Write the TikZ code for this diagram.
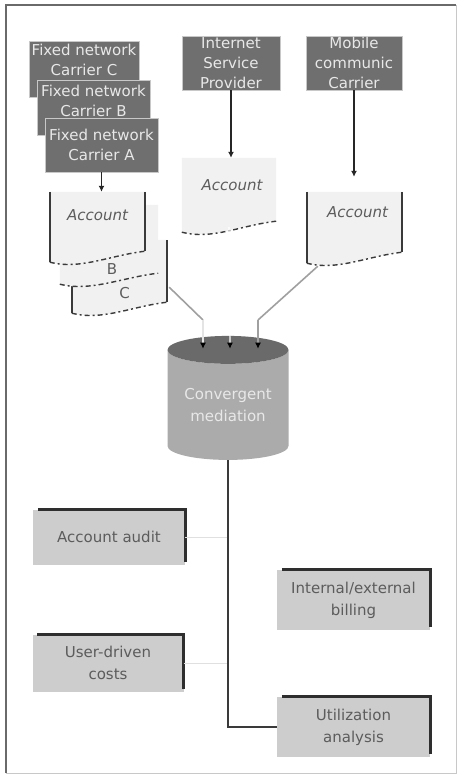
\documentclass[tikz,border=0pt]{standalone}
\usepackage{fontspec}
\setsansfont{DejaVu Sans}
\usetikzlibrary{arrows.meta,shapes.geometric,calc}
\definecolor{carrierFill}{HTML}{6F6F6F}
\definecolor{docFill}{HTML}{F1F1F1}
\definecolor{boxFill}{HTML}{CDCDCD}
\definecolor{bodyFill}{HTML}{ABABAB}
\definecolor{endFill}{HTML}{6A6A6A}
\definecolor{inkDark}{HTML}{3A3A3A}
\definecolor{inkText}{HTML}{5C5C5C}
\definecolor{paleText}{HTML}{E8E8E8}
\definecolor{feedGray}{HTML}{A0A0A0}
\definecolor{feedPale}{HTML}{E4E4E4}
\definecolor{frameDark}{HTML}{6A6A6A}
\definecolor{frameLight}{HTML}{C8C8C8}
\tikzset{%
  >={Latex[width=6pt,length=6pt]},
  % Specifications for style of nodes:
        base/.style = {rectangle, inner sep=0pt, text centered, align=center,
                       font=\sffamily\fontsize{15}{20}\selectfont},
     carrier/.style = {base, fill=carrierFill, draw=frameLight, line width=0.5pt},
     cartext/.style = {base, text=paleText},
         doc/.style = {rectangle, inner sep=0pt},
        acct/.style = {base, text=inkText, font=\sffamily\itshape\fontsize{15}{20}\selectfont},
     docfill/.style = {fill=docFill},
     docside/.style = {draw=inkDark, line width=2.2pt},
        wave/.style = {draw=inkDark, line width=1.4pt, dash pattern=on 5pt off 3pt on 2pt off 3pt},
      result/.style = {base, fill=boxFill, text=inkText, font=\sffamily\fontsize{15}{22}\selectfont},
         rim/.style = {draw=inkDark!80!black, line width=3pt},
         cyl/.style = {cylinder, shape border rotate=90, aspect=0.32, inner sep=0pt,
                       minimum width=121pt, minimum height=124pt, align=center,
                       cylinder uses custom fill, cylinder body fill=bodyFill,
                       cylinder end fill=endFill, text=paleText,
                       font=\sffamily\fontsize{15}{22}\selectfont},
  % Specifications for style of lines:
        flow/.style = {draw=black!85, line width=1.3pt},
        feed/.style = {draw=feedGray, line width=1.6pt},
    feedpale/.style = {draw=feedPale, line width=1.6pt},
       trunk/.style = {draw=inkDark, line width=2pt},
         tap/.style = {draw=black!12, line width=0.8pt},
}
\begin{document}
\begin{tikzpicture}[x=1pt, y=-1pt]
  \useasboundingbox (0,0) rectangle (458,776);
  % frame
  \draw[frameLight, line width=1pt] (456,5) -- (456,773) -- (6,773);
  \draw[frameDark, line width=2.5pt] (6,773) -- (6,5) -- (456,5);

  % Providers (fixed carriers stacked, C at the back)
  \node (carC) [carrier, minimum width=110, minimum height=56] at (84,69) {};
  \node (txtC) [cartext] at ($(carC.north)+(0,19)$) {Fixed network\\Carrier C};
  \node (carB) [carrier, minimum width=113, minimum height=55] at (93.5,107.5) {};
  \node (txtB) [cartext] at ($(carB.north)+(0,21)$) {Fixed network\\Carrier B};
  \node (carA) [carrier, text=paleText, minimum width=113, minimum height=54] at (101.5,145)
               {Fixed network\\Carrier A};
  \node (isp)  [carrier, text=paleText, minimum width=98, minimum height=54] at (231,63)
               {Internet\\Service\\Provider};
  \node (mob)  [carrier, text=paleText, minimum width=96, minimum height=54] at (354,63)
               {Mobile\\communic\\Carrier};

  % Account documents
  \node (docC) [doc, minimum width=95, minimum height=62] at (119.5,271) {};
  \node (docB) [doc, minimum width=98, minimum height=68] at (109,239) {};
  \node (docA) [doc, minimum width=95, minimum height=59] at (97.5,221.5) {};
  \node (docI) [doc, minimum width=94, minimum height=63] at (229,189.5) {};
  \node (docM) [doc, minimum width=95, minimum height=60] at (354.5,222) {};

  \fill[docfill] (docC.north west) -- (docC.north east) -- (docC.south east)
     .. controls +(-35,4) and +(30,8) .. ($(docC.south west)+(0,11)$) -- cycle;
  \draw[docside] (docC.north west) -- ($(docC.south west)+(0,11)$);
  \draw[docside] (docC.north east) -- (docC.south east);
  \draw[wave] ($(docC.south west)+(0,11)$) .. controls +(30,8) and +(-35,4) .. (docC.south east);
  \node (labC) [acct, font=\sffamily\fontsize{15}{20}\selectfont] at ($(docC.south)+(5,-9)$) {C};

  \fill[docfill] (docB.north west) -- (docB.north east) -- (docB.south east)
     .. controls +(-35,4) and +(30,8) .. ($(docB.south west)+(0,11)$) -- cycle;
  \draw[wave] ($(docB.south west)+(0,11)$) .. controls +(30,8) and +(-35,4) .. (docB.south east);
  \node (labB) [acct, font=\sffamily\fontsize{15}{20}\selectfont] at ($(docB.south)+(3,-4)$) {B};

  \fill[docfill] (docA.north west) -- (docA.north east) -- (docA.south east)
     .. controls +(-35,4) and +(30,8) .. ($(docA.south west)+(0,11)$) -- cycle;
  \draw[docside] (docA.north west) -- ($(docA.south west)+(0,11)$);
  \draw[docside] (docA.north east) -- (docA.south east);
  \draw[wave] ($(docA.south west)+(0,11)$) .. controls +(30,8) and +(-35,4) .. (docA.south east);
  \node (txtA) [acct] at ($(docA.north)+(0,23)$) {Account};

  \fill[docfill] (docI.north west) -- (docI.north east) -- (docI.south east)
     .. controls +(-35,4) and +(30,8) .. ($(docI.south west)+(0,11)$) -- cycle;
  \draw[wave] ($(docI.south west)+(0,11)$) .. controls +(30,8) and +(-35,4) .. (docI.south east);
  \node (txtI) [acct] at ($(docI.north)+(3,27)$) {Account};

  \fill[docfill] (docM.north west) -- (docM.north east) -- (docM.south east)
     .. controls +(-35,4) and +(30,8) .. ($(docM.south west)+(0,11)$) -- cycle;
  \draw[docside] (docM.north west) -- ($(docM.south west)+(0,11)$);
  \draw[docside] (docM.north east) -- (docM.south east);
  \draw[wave] ($(docM.south west)+(0,11)$) .. controls +(30,8) and +(-35,4) .. (docM.south east);
  \node (txtM) [acct] at ($(docM.north)+(3,20)$) {Account};

  % Provider to account
  \draw[->, flow] (carA.south) -- (carA.south |- docA.north);
  \draw[->, flow] (isp.south) -- (isp.south |- docI.north);
  \draw[->, flow, shorten >=15pt] (mob.south) -- (mob.south |- docM.north);

  % Mediation
  \node (conv) [cyl] at (228,405) {Convergent\\mediation};

  \coordinate (inL) at ($(conv.north)+(-25,13)$);
  \coordinate (inM) at ($(conv.north)+(2,13)$);
  \coordinate (inR) at ($(conv.north)+(30,13)$);
  \coordinate (kinkL) at (203,320);
  \coordinate (kinkR) at (258,320);

  \draw[feed] ($(docC.south east)+(2,-15)$) -- (kinkL);
  \draw[feedpale, -{Latex[width=6pt,length=6pt,color=black]}] (kinkL) -- (inL);
  \draw[white, line width=1.2pt, -{Latex[width=6pt,length=6pt,color=black]}]
       ($(docI.south)+(0,6)$) -- (inM);
  \draw[feed] ($(docM.south west)+(11,14)$) -- (kinkR);
  \draw[feed, -{Latex[width=6pt,length=6pt,color=black]}] (kinkR) -- (inR);

  % Uses of the mediated data
  \node (audit)   [result, minimum width=152, minimum height=55] at (109,537) {Account audit};
  \node (billing) [result, minimum width=153, minimum height=60] at (353.5,600) {Internal/external\\billing};
  \node (costs)   [result, minimum width=151, minimum height=57] at (108,663) {User-driven\\costs};
  \node (util)    [result, minimum width=153, minimum height=60] at (353.5,727) {Utilization\\analysis};
  \foreach \b in {audit, billing, costs, util}
    \draw[rim] ($(\b.north west)+(5,0)$) -- (\b.north east) -- ($(\b.south east)+(0,-3)$);

  \draw[tap] (audit.east) -- (audit.east -| conv.south);
  \draw[tap] (costs.east) -- (costs.east -| conv.south);
  \draw[trunk] (conv.south) |- (util.west);
\end{tikzpicture}
\end{document}
